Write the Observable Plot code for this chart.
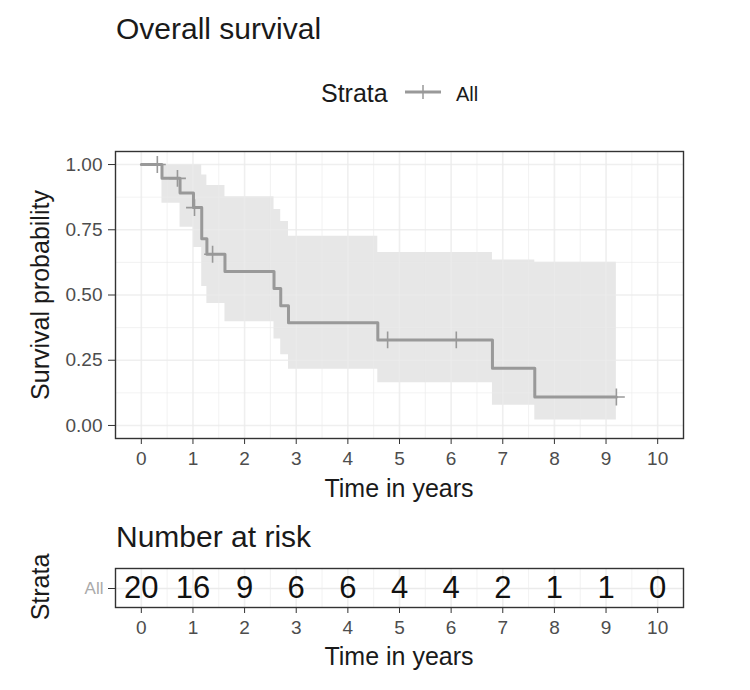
<!DOCTYPE html>
<html>
<head>
<meta charset="utf-8">
<script src="https://cdn.jsdelivr.net/npm/d3@7"></script>
<script src="https://cdn.jsdelivr.net/npm/@observablehq/plot@0.6"></script>
<style>
  html, body { margin: 0; padding: 0; background: #fff; }
  #wrap { position: relative; width: 750px; height: 690px; font-family: "Liberation Sans", Arial, Helvetica, sans-serif; color: #1a1a1a; overflow: hidden; }
  .t { position: absolute; line-height: 1; white-space: nowrap; }
  .c { transform: translate(-50%, -50%); }
  .r { transform: translate(-50%, -50%) rotate(-90deg); }
  #wrap svg { position: absolute; left: 0; }
</style>
</head>
<body>
<div id="wrap">
  <div class="t" style="left:116px; top:14px; font-size:30px;">Overall survival</div>
  <div class="t" style="left:321px; top:81px; font-size:25px;">Strata</div>
  <svg id="leg" width="40" height="20" style="left:403px; top:82px;">
    <line x1="2" x2="38" y1="10" y2="10" stroke="#999" stroke-width="3"></line>
    <line x1="20" x2="20" y1="3" y2="17" stroke="#999" stroke-width="1.5"></line>
  </svg>
  <div class="t" style="left:456px; top:84px; font-size:20px;">All</div>
  <div class="t r" style="left:40px; top:295px; font-size:25px;">Survival probability</div>
  <div class="t c" style="left:399px; top:488px; font-size:25px;">Time in years</div>
  <div class="t" style="left:116px; top:522px; font-size:30px;">Number at risk</div>
  <div class="t r" style="left:40px; top:587px; font-size:25px;">Strata</div>
  <div class="t c" style="left:399px; top:656px; font-size:25px;">Time in years</div>
</div>
<script>
// ---- data ----
const kmTime  = [0, 0.40, 0.75, 1.01, 1.17, 1.27, 1.62, 2.57, 2.70, 2.85, 4.58, 6.80, 7.62, 9.20];
const kmSurv  = [1, 0.947, 0.891, 0.835, 0.716, 0.656, 0.590, 0.525, 0.459, 0.394, 0.328, 0.219, 0.109, 0.109];
const ciUpper = [1, 1, 1, 1, 0.96, 0.92, 0.877, 0.828, 0.782, 0.725, 0.663, 0.634, 0.626, 0.626];
const ciLower = [1, 0.852, 0.760, 0.682, 0.533, 0.467, 0.397, 0.331, 0.271, 0.215, 0.164, 0.077, 0.021, 0.021];

const censorTime = [0.31, 0.70, 1.03, 1.38, 4.77, 6.10, 9.20];
const censorSurv = [1, 0.947, 0.835, 0.656, 0.328, 0.328, 0.109];

const xTicks = [0, 1, 2, 3, 4, 5, 6, 7, 8, 9, 10];
const xMinor = [-0.5, 0.5, 1.5, 2.5, 3.5, 4.5, 5.5, 6.5, 7.5, 8.5, 9.5, 10.5];
const yTicks = [0, 0.25, 0.5, 0.75, 1];
const yMinor = [0.125, 0.375, 0.625, 0.875];

const strata = ["All"];
const riskTime = [0, 1, 2, 3, 4, 5, 6, 7, 8, 9, 10];
const riskCount = [20, 16, 9, 6, 6, 4, 4, 2, 1, 1, 0];

// ---- tables for the library ----
const km = kmTime.map((t, i) => ({t, s: kmSurv[i], lo: ciLower[i], hi: ciUpper[i]}));
const cens = censorTime.map((t, i) => ({t, s: censorSurv[i]}));
const risk = riskTime.map((t, i) => ({t, n: riskCount[i], g: strata[0]}));

const font = '"Liberation Sans", Arial, Helvetica, sans-serif';
const lineCol = "#999999";
const gridCol = "#ebebeb";

const main = Plot.plot({
  width: 750,
  height: 360,
  marginLeft: 115,
  marginRight: 67,
  marginTop: 11,
  marginBottom: 62,
  style: {fontFamily: font, fontSize: "19px", color: "#4d4d4d", background: "transparent"},
  x: {domain: [-0.5, 10.5]},
  y: {domain: [-0.05, 1.05]},
  marks: [
    Plot.areaY(km, {x: "t", y1: "lo", y2: "hi", curve: "step-after", fill: "#e7e7e7"}),
    Plot.ruleX(xMinor, {stroke: gridCol, strokeWidth: 0.8, strokeOpacity: 0.8}),
    Plot.ruleY(yMinor, {stroke: gridCol, strokeWidth: 0.8, strokeOpacity: 0.8}),
    Plot.ruleX(xTicks, {stroke: gridCol, strokeWidth: 1.6, strokeOpacity: 0.8}),
    Plot.ruleY(yTicks, {stroke: gridCol, strokeWidth: 1.6, strokeOpacity: 0.8}),
    Plot.line(km, {x: "t", y: "s", curve: "step-after", stroke: lineCol, strokeWidth: 3}),
    Plot.dot(cens, {x: "t", y: "s", symbol: "plus", r: 5.5, stroke: lineCol, strokeWidth: 1.6}),
    Plot.frame({stroke: "#333333", strokeWidth: 1.4}),
    Plot.axisX({ticks: xTicks, tickSize: 6, tickPadding: 7, stroke: "#333333", label: null, fontSize: 19}),
    Plot.axisY({ticks: yTicks, tickSize: 7, tickPadding: 6, stroke: "#333333", label: null, fontSize: 19, tickFormat: d => d.toFixed(2)})
  ]
});
main.style.top = "140px";
document.getElementById("wrap").appendChild(main);

const tbl = Plot.plot({
  width: 750,
  height: 115,
  marginLeft: 115,
  marginRight: 67,
  marginTop: 13,
  marginBottom: 63,
  style: {fontFamily: font, fontSize: "19px", color: "#4d4d4d", background: "transparent"},
  x: {domain: [-0.5, 10.5]},
  y: {domain: strata},
  marks: [
    Plot.ruleX(xMinor, {stroke: gridCol, strokeWidth: 0.8, strokeOpacity: 0.8}),
    Plot.ruleX(xTicks, {stroke: gridCol, strokeWidth: 1.6, strokeOpacity: 0.8}),
    Plot.ruleY(strata, {y: d => d, stroke: gridCol, strokeWidth: 1.6}),
    Plot.text(risk, {x: "t", y: "g", text: d => String(d.n), fontSize: 31, fill: "#111111"}),
    Plot.frame({stroke: "#333333", strokeWidth: 1.4}),
    Plot.axisX({ticks: xTicks, tickSize: 6, tickPadding: 7, stroke: "#333333", label: null, fontSize: 19}),
    Plot.axisY({tickSize: 7, tickPadding: 5, stroke: "#333333", label: null, fontSize: 17, fill: "#aaaaaa"})
  ]
});
tbl.style.top = "555px";
document.getElementById("wrap").appendChild(tbl);
</script>
</body>
</html>
